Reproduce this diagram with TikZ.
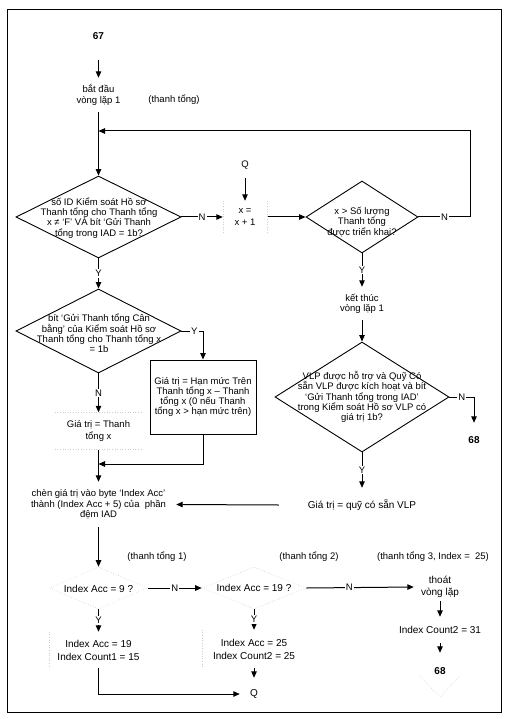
\documentclass[tikz,border=0pt]{standalone}
\usepackage{fontspec}
\setmainfont{Liberation Sans}
\usetikzlibrary{arrows.meta,shapes.geometric}
\newcommand{\myfa}{\fontsize{9.5}{10.3}\selectfont}
\newcommand{\myfw}{\fontsize{9.5}{12}\selectfont}
\newcommand{\myfb}{\fontsize{10}{13}\selectfont}
\newcommand{\myfe}{\fontsize{10}{12}\selectfont}
\tikzset{
  conn/.style={draw, line width=1pt},
  arr/.style={conn, -{Triangle[length=6.5pt,width=5.5pt]}},
  txt/.style={inner sep=0pt, align=center, font=\myfa},
  txtw/.style={inner sep=0pt, align=center, font=\myfw},
  txtb/.style={inner sep=0pt, align=center, font=\myfb},
  num/.style={inner sep=0pt, font=\myfb\bfseries},
  dia/.style={diamond, draw, line width=0.9pt, inner sep=0pt},
  faintdia/.style={diamond, draw=gray!40, dotted, line width=0.6pt, inner sep=0pt},
  faint/.style={draw=gray!40, dotted, line width=0.6pt},
  lbl/.style={fill=white, inner sep=1pt, font=\myfa},
  procbox/.style={draw, line width=0.9pt, inner sep=0pt, align=center, font=\myfa},
}
\begin{document}
\begin{tikzpicture}[x=1pt,y=-1pt]
\useasboundingbox (0,0) rectangle (512,719);
\draw[line width=1pt] (7,10) rectangle (501,712);

% upper part
\node[num, minimum height=48pt] (n67) at (98.5,36) {67};
\node[txt, minimum height=34pt] (start) at (98.5,95) {bắt đầu\\vòng lặp 1};
\node[txt] (tt0) at (174,100) {(thanh tổng)};
\coordinate (loopj) at (98.5,131);

\node[dia, minimum width=165pt, minimum height=82pt] (d1) at (98.5,217) {};
\node[txt] (d1t) at (99,218) {số ID Kiểm soát Hồ sơ\\Thanh tổng cho Thanh tổng\\x ≠ `F' VÀ bít `Gửi Thanh\\tổng trong IAD = 1b?};

\node[txt, minimum height=26pt] (Q1) at (245,165) {Q};
\node[txtw, minimum width=44pt, minimum height=32pt] (x1) at (245,217) {x =\\x + 1};

\node[dia, minimum width=112pt, minimum height=72pt] (d2) at (362,217) {};
\node[txt] (d2t) at (362,222) {x > Số lượng\\Thanh tổng\\được triển khai?};

\node[txt, minimum height=33pt] (end1) at (362,303.5) {kết thúc\\vòng lặp 1};

\node[dia, minimum width=174pt, minimum height=110pt] (d3) at (362,397) {};
\node[txt] (d3t) at (362,397) {VLP được hỗ trợ và Quỹ Có\\sẵn VLP được kích hoạt và bít\\`Gửi Thanh tổng trong IAD'\\trong Kiểm soát Hồ sơ VLP có\\giá trị 1b?};

\node[num, minimum height=34pt] (n68a) at (474,440) {68};
\node[txtb, minimum width=166pt, minimum height=34pt] (vlp) at (362,505) {Giá trị = quỹ có sẵn VLP};

\node[dia, minimum width=165pt, minimum height=84pt] (d4) at (98.5,331) {};
\node[txt] (d4t) at (99,333.5) {bít `Gửi Thanh tổng Cân\\bằng' của Kiểm soát Hồ sơ\\Thanh tổng cho Thanh tổng x\\= 1b};

\node[procbox, minimum width=106pt, minimum height=74pt] (hm) at (203,397) {Giá trị = Hạn mức Trên\\Thanh tổng x – Thanh\\tổng x (0 nếu Thanh\\tổng x > hạn mức trên)};
\coordinate (j2) at (98.5,464);

\node[txtw, minimum width=87pt, minimum height=37pt] (val) at (98.5,431) {Giá trị = Thanh\\tổng x};
\node[txt, minimum width=155pt, minimum height=45pt] (ins) at (98.5,504.5) {chèn giá trị vào byte `Index Acc'\\thành (Index Acc + 5) của\ \ phần\\đệm IAD};

% lower part
\node[txt] (tt1) at (157,557) {(thanh tổng 1)};
\node[txt] (tt2) at (309,557) {(thanh tổng 2)};
\node[txt] (tt3) at (433,557) {(thanh tổng 3, Index =\ \ 25)};

\node[faintdia, minimum width=98pt, minimum height=42pt] (d5) at (98.5,588) {};
\node[txtb] (d5t) at (98.5,589) {Index Acc = 9 ?};
\node[faintdia, minimum width=104pt, minimum height=42pt] (d6) at (254,588) {};
\node[txtb] (d6t) at (254,588) {Index Acc = 19 ?};

\node[txtb, minimum width=98pt, minimum height=36pt] (ia19) at (98.5,650) {Index Acc = 19\\Index Count1 = 15};
\node[txtb, minimum width=104pt, minimum height=38pt] (ia25) at (254,649) {Index Acc = 25\\Index Count2 = 25};
\node[txtb, minimum width=28pt, minimum height=32pt] (Q2) at (254,694) {Q};

\node[txtb, font=\myfe, minimum width=52pt, minimum height=28pt] (exit) at (440,587) {thoát\\vòng lặp};
\node[txtb, minimum height=26pt] (ic31) at (440,630) {Index Count2 = 31};
\node[num, minimum height=36pt] (n68b) at (440,671) {68};

% connectors
\draw[arr] (n67.south) -- (start.north);
\draw[arr] (start.south) -- (d1.north);
\draw[arr] (d2.east) -- node[lbl]{N} ++(52,0) |- (loopj);
\draw[arr] (d1.east) -- node[lbl]{N} (x1.west);
\draw[arr] (Q1.south) -- (x1.north);
\draw[arr] (x1.east) -- (d2.west);
\draw[arr] (d2.south) -- node[lbl]{Y} (end1.north);
\draw[arr] (end1.south) -- (d3.north);
\draw[arr] (d3.east) -| node[lbl,pos=0.25]{N} (n68a.north);
\draw[arr] (d3.south) -- node[lbl]{Y} (vlp.north);
\draw[arr] (vlp.west) -- (ins.east);
\draw[arr] (d1.south) -- node[lbl]{Y} (d4.north);
\draw[arr] (d4.east) -| node[lbl,pos=0.3]{Y} (hm.north);
\draw[arr] (d4.south) -- node[lbl]{N} (val.north);
\draw[arr] (hm.south) |- (j2);
\draw[arr] (val.south) -- (ins.north);
\draw[arr] (ins.south) -- (d5.north);
\draw[arr] (d5.east) -- node[lbl]{N} (d6.west);
\draw[arr] (d6.east) -- node[lbl,pos=0.4]{N} (exit.west);
\draw[arr] (d5.south) -- node[lbl]{Y} (ia19.north);
\draw[arr] (d6.south) -- node[lbl]{Y} (ia25.north);
\draw[arr] (ia19.south) |- (Q2.west);
\draw[arr] (ia25.south) -- (Q2.north);
\draw[arr] (exit.south) -- (ic31.north);
\draw[arr] (ic31.south) -- (n68b.north);

% faint scan remnants
\draw[faint] (val.north west) -- (val.north east);
\draw[faint] (val.south west) -- (val.south east);
\draw[faint] (ia19.north west) -- (ia19.south west);
\draw[faint] (ia25.north west) -- (ia25.south west);
\draw[faint] (x1.north west) -- (x1.south west);
\draw[faint] (x1.north east) -- (x1.south east);
\draw[faint] (n68b.center) ++(-21,4) -- ++(21,22) -- ++(19,-20);
\end{tikzpicture}
\end{document}
